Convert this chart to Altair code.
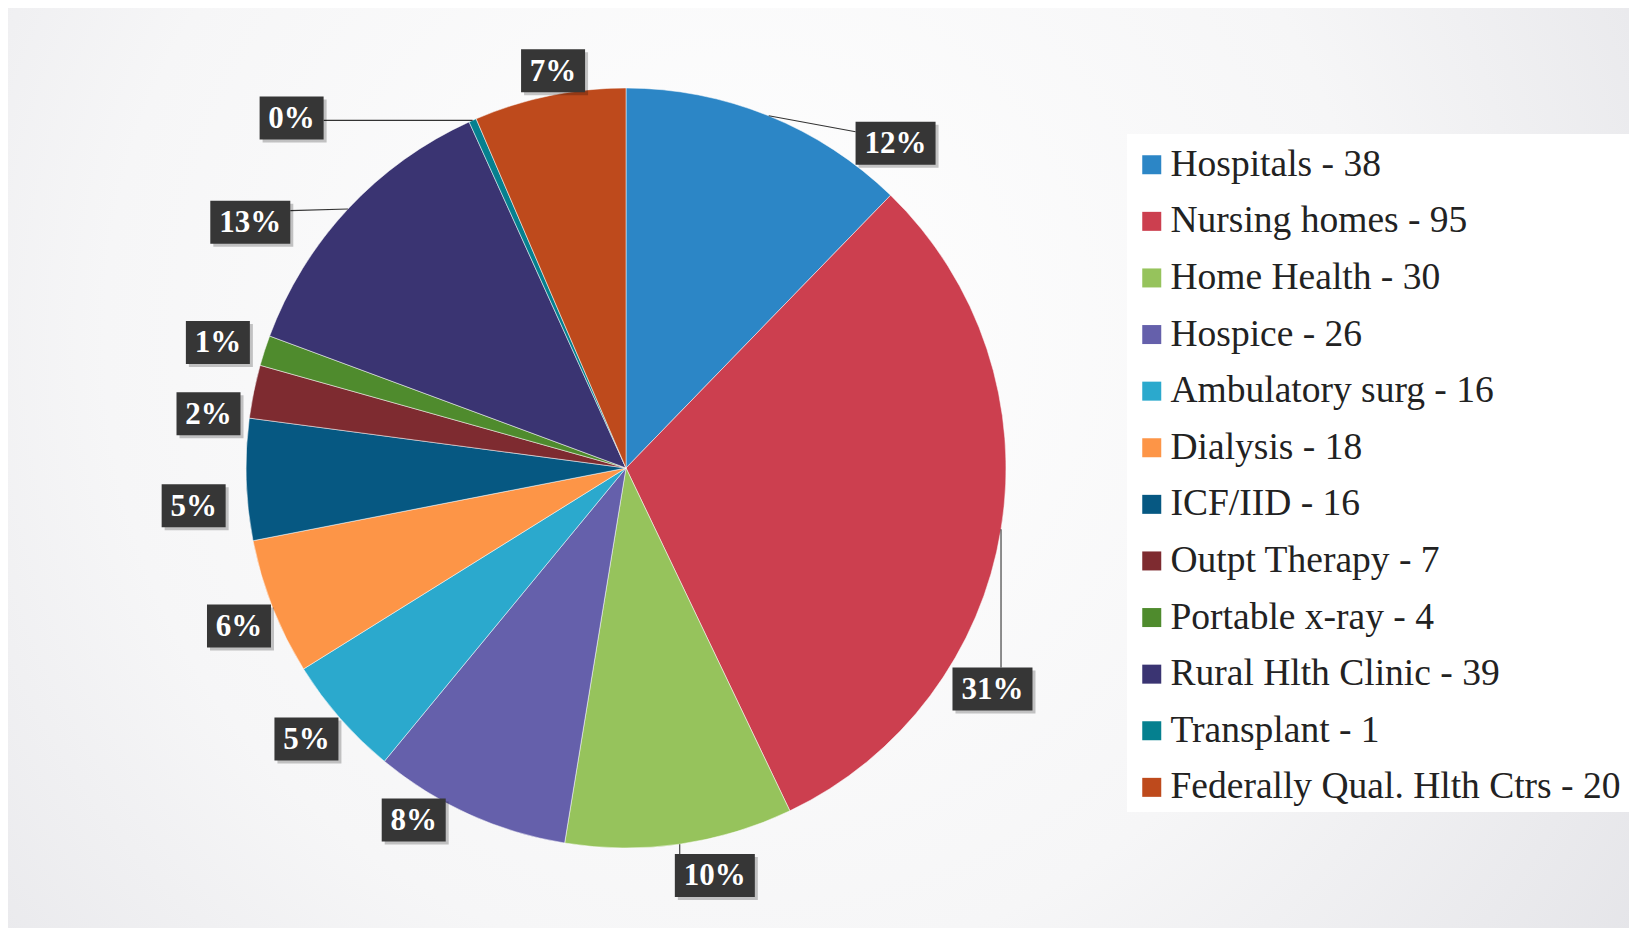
import math
import altair as alt
import pandas as pd

# ---------------- data ----------------
categories = ["Hospitals", "Nursing homes", "Home Health", "Hospice",
              "Ambulatory surg", "Dialysis", "ICF/IID", "Outpt Therapy",
              "Portable x-ray", "Rural Hlth Clinic", "Transplant ",
              "Federally Qual. Hlth Ctrs"]
counts = [38, 95, 30, 26, 16, 18, 16, 7, 4, 39, 1, 20]
pct_labels = ["12%", "31%", "10%", "8%", "5%", "6%", "5%", "2%", "1%",
              "13%", "0%", "7%"]

# ---------------- styles / layout ----------------
colors = ["#2c86c6", "#cc3f4f", "#96c35c", "#6560ab", "#2ba9cd", "#fd9547",
          "#065882", "#7e2b30", "#4f8b2d", "#3a3472", "#05808f", "#be4a1c"]
W, H = 1621, 920
CX, CY, R = 618, 460, 380
# label anchor (polar, relative to pie centre: degrees clockwise from top, px)
label_angle = [39.7, 121.1, 167.7, 211.1, 229.7, 247.8, 265.0, 277.4, 287.1,
               303.2, 316.3, 349.6]
label_dist = [422, 428, 417, 411, 419, 418, 434, 421, 427, 449, 484, 404]
has_leader = [True, True, True, False, False, False, False, False, False,
              True, True, False]

# ---------------- derived table ----------------
total = sum(counts)
rows = []
cum = 0
for i, (c, v) in enumerate(zip(categories, counts)):
    mid = (cum + v / 2) / total * 2 * math.pi
    cum += v
    a = math.radians(label_angle[i])
    lx = CX + label_dist[i] * math.sin(a)
    ly = CY - label_dist[i] * math.cos(a)
    hw = 32 if len(pct_labels[i]) == 2 else 40
    hh = 21.5
    left, right, top, bottom = lx - hw, lx + hw, ly - hh, ly + hh
    sx = CX + R * math.sin(mid)
    sy = CY - R * math.cos(mid)
    ex = min(max(sx, left), right)
    if sx < left or sx > right:
        ey = min(max(sy, top + 10), bottom - 10)
    else:
        ey = min(max(sy, top), bottom)
    rows.append(dict(idx=i, name=c, count=v,
                     legend=f"{c} - {v}",
                     pct=pct_labels[i], lx=lx, ly=ly,
                     left=left, right=right, top=top, bottom=bottom,
                     sleft=left + 3, sright=right + 3, stop=top + 3, sbottom=bottom + 3,
                     sx=sx, sy=sy, ex=ex, ey=ey, leader=has_leader[i]))
df = pd.DataFrame(rows)
legend_domain = list(df["legend"])

xs = alt.Scale(domain=[0, W], range=[0, W])
ys = alt.Scale(domain=[0, H], range=[0, H])

one = pd.DataFrame({"a": [0]})
bg = alt.Chart(one).mark_rect(
    color=alt.Gradient(
        gradient="radial",
        stops=[alt.GradientStop(color="#ffffff", offset=0),
               alt.GradientStop(color="#f6f6f7", offset=0.5),
               alt.GradientStop(color="#dedee3", offset=1)],
        x1=0.45, y1=0.42, x2=0.45, y2=0.42, r1=0, r2=0.78)
).encode(x=alt.value(0), x2=alt.value(W), y=alt.value(0), y2=alt.value(H))

legend_box = alt.Chart(one).mark_rect(color="#ffffff").encode(
    x=alt.value(1119), x2=alt.value(1621), y=alt.value(126), y2=alt.value(804))

pie = alt.Chart(df).mark_arc(outerRadius=R, stroke="#ffffff", strokeWidth=0.5).encode(
    theta=alt.Theta("count:Q", stack=True),
    order=alt.Order("idx:Q"),
    color=alt.Color("legend:N",
                    scale=alt.Scale(domain=legend_domain, range=colors),
                    sort=legend_domain,
                    legend=alt.Legend(title=None, orient="none",
                                      legendX=1125, legendY=138,
                                      symbolType="square", symbolSize=361,
                                      symbolStrokeWidth=0,
                                      labelFont="Liberation Serif",
                                      labelFontSize=37.5, labelColor="#222222",
                                      labelLimit=0, labelOffset=0,
                                      rowPadding=17.6, padding=0)),
    x=alt.value(CX), y=alt.value(CY),
)

leaders = alt.Chart(df).transform_filter("datum.leader").mark_rule(
    color="#333333", strokeWidth=1.1
).encode(
    x=alt.X("sx:Q", scale=xs, axis=None), y=alt.Y("sy:Q", scale=ys, axis=None),
    x2="ex:Q", y2="ey:Q",
)

shadow = alt.Chart(df).mark_rect(color="#000000", opacity=0.22).encode(
    x=alt.X("sleft:Q", scale=xs, axis=None), x2="sright:Q",
    y=alt.Y("stop:Q", scale=ys, axis=None), y2="sbottom:Q",
)

boxes = alt.Chart(df).mark_rect(color="#363636").encode(
    x=alt.X("left:Q", scale=xs, axis=None), x2="right:Q",
    y=alt.Y("top:Q", scale=ys, axis=None), y2="bottom:Q",
)

texts = alt.Chart(df).mark_text(
    font="Liberation Serif", fontSize=31, fontWeight="bold", color="#ffffff",
    align="center", baseline="middle", dy=1
).encode(
    x=alt.X("lx:Q", scale=xs, axis=None), y=alt.Y("ly:Q", scale=ys, axis=None),
    text="pct:N",
)

chart = alt.layer(bg, legend_box, pie, leaders, shadow, boxes, texts).properties(
    width=W, height=H, padding=0, background="#ececef"
).configure_view(stroke=None)

chart.save("out.html", embed_options={"renderer": "svg", "actions": False})
